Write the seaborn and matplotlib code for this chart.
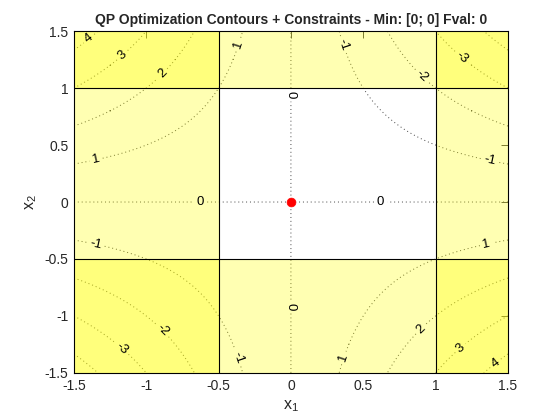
# QP contour plot with box constraints
import numpy as np
import matplotlib
matplotlib.use("Agg")
import matplotlib.pyplot as plt
import seaborn as sns

## quadratic term of the objective: f(x) = 0.5 * x' H x + c' x
H = [[0.0, -2.0], [-2.0, 0.0]]
c = [0.0, 0.0]

## box constraints
lb = [-0.5, -0.5]
ub = [1.0, 1.0]

## solver result
x_min = [0.0]
y_min = [0.0]
fval = 0

## plotting window and contour levels
x_range = [-1.5, 1.5]
y_range = [-1.5, 1.5]
levels = [-4, -3, -2, -1, 0, 1, 2, 3, 4]
ticks = [-1.5, -1, -0.5, 0, 0.5, 1, 1.5]

## where the contour labels sit (label placement hints)
label_pos = [(-1.40, 1.44), (-1.17, 1.30), (-0.89, 1.13), (-0.35, 1.38), (-1.35, 0.39),
             (0.36, 1.38), (0.90, 1.10), (1.18, 1.27), (1.37, 0.35),
             (-0.625, 0.0), (0.62, 0.0), (0.0, 0.94), (0.0, -0.92),
             (-1.35, -0.38), (-0.90, -1.14), (-1.18, -1.30), (-0.37, -1.37),
             (0.37, -1.37), (0.90, -1.12), (1.17, -1.28), (1.41, -1.41), (1.35, -0.36)]

sns.set_style("white")
plt.rcParams['font.family'] = ['Liberation Sans', 'DejaVu Sans']

# evaluate objective on a grid
Hm = np.array(H)
xs = np.linspace(x_range[0], x_range[1], 301)
ys = np.linspace(y_range[0], y_range[1], 301)
X1, X2 = np.meshgrid(xs, ys)
F = 0.5 * (Hm[0, 0] * X1**2 + (Hm[0, 1] + Hm[1, 0]) * X1 * X2 + Hm[1, 1] * X2**2) + c[0] * X1 + c[1] * X2

fig = plt.figure(figsize=(5.6, 4.2), dpi=100)
ax = fig.add_axes([0.132, 0.112, 0.775, 0.814])

cs = ax.contour(X1, X2, F, levels=levels, colors='#444444', linewidths=0.7,
                linestyles=[(0, (1, 3))], zorder=2)
ax.clabel(cs, fmt='%d', fontsize=9.5, colors='black', manual=label_pos, inline=True, inline_spacing=3)

# infeasible regions
yellow = '#ffff00'
ax.axvspan(x_range[0], lb[0], color=yellow, alpha=0.3, lw=0, zorder=3.5)
ax.axvspan(ub[0], x_range[1], color=yellow, alpha=0.3, lw=0, zorder=3.5)
ax.axhspan(y_range[0], lb[1], color=yellow, alpha=0.3, lw=0, zorder=3.5)
ax.axhspan(ub[1], y_range[1], color=yellow, alpha=0.3, lw=0, zorder=3.5)

# constraint boundaries
for v in [lb[0], ub[0]]:
    ax.axvline(v, color='black', lw=0.8, zorder=4)
for v in [lb[1], ub[1]]:
    ax.axhline(v, color='black', lw=0.8, zorder=4)

# optimum
sns.scatterplot(x=x_min, y=y_min, color='red', s=40, edgecolor='red', ax=ax, zorder=5)

ax.set_xlim(x_range)
ax.set_ylim(y_range)
ax.set_xticks(ticks)
ax.set_yticks(ticks)
ax.set_xticklabels(['-1.5', '-1', '-0.5', '0', '0.5', '1', '1.5'])
ax.set_yticklabels(['-1.5', '-1', '-0.5', '0', '0.5', '1', '1.5'])
ax.tick_params(direction='in', top=True, right=True, length=5, width=0.6, labelsize=10, pad=4)
for s in ax.spines.values():
    s.set_linewidth(0.8)
    s.set_color('black')
    s.set_zorder(6)

ax.set_xlabel(r'$\mathregular{x_1}$', fontsize=11.5, labelpad=4)
ax.set_ylabel(r'$\mathregular{x_2}$', fontsize=11.5, labelpad=4)
ax.set_title('QP Optimization Contours + Constraints - Min: [0; 0] Fval: %d' % fval,
             fontsize=10, fontweight='bold', pad=5)

fig.savefig('out.png', dpi=100)
